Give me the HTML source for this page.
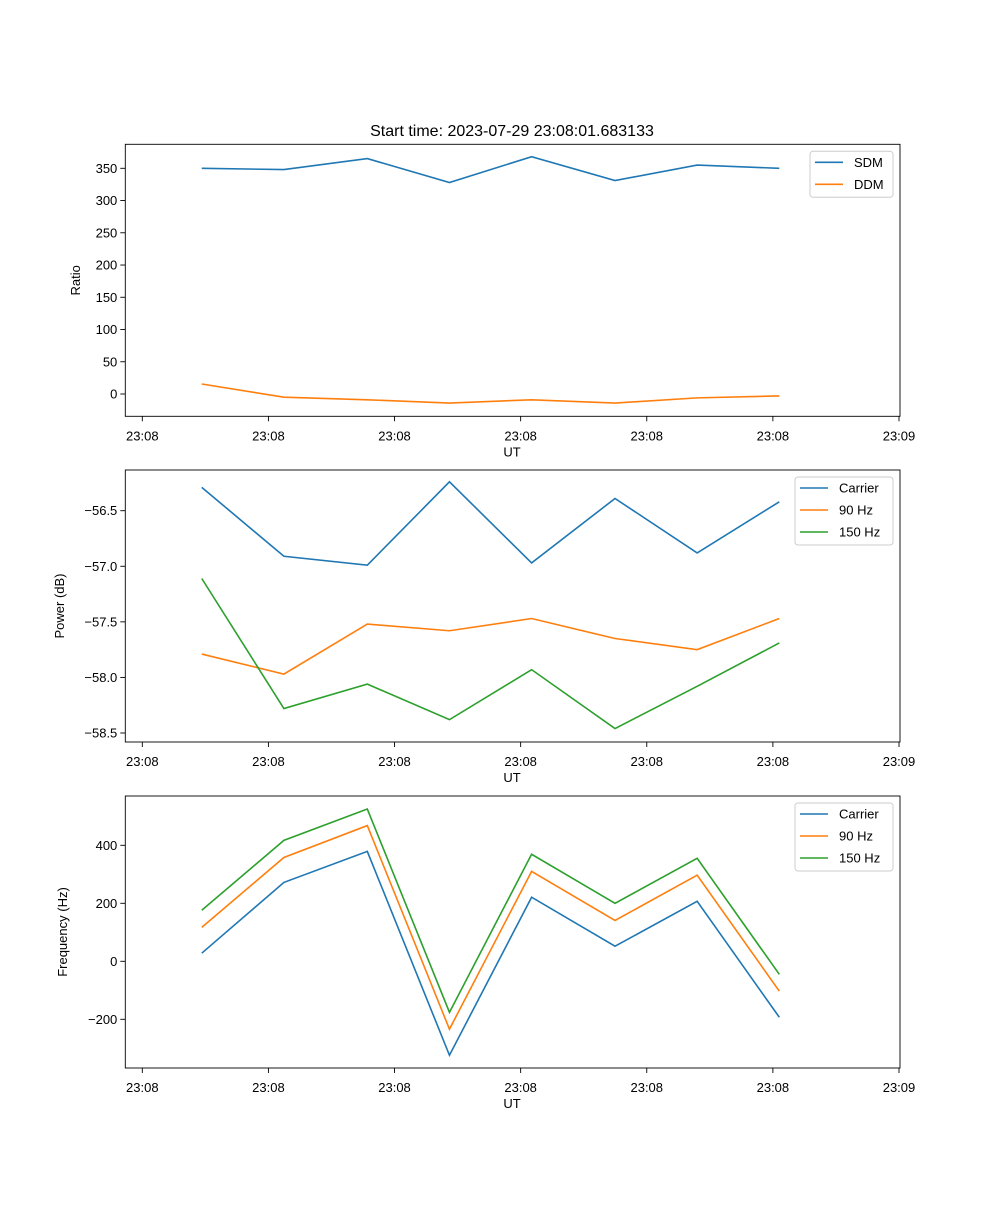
<!DOCTYPE html>
<html><head><meta charset="utf-8"><style>
body{margin:0;background:#fff}
svg{font-family:"Liberation Sans","DejaVu Sans",sans-serif}
</style></head><body>
<svg id="fig" width="1000" height="1200" viewBox="0 0 1000 1200"></svg>
<script>
const times=[0.475,1.125,1.785,2.435,3.085,3.745,4.395,5.045];
const xTickLabels=["23:08","23:08","23:08","23:08","23:08","23:08","23:09"];
const sdm=[350,348,365,328,368,331,355,350];
const ddm=[15.5,-5,-9,-14,-9,-14,-6,-3];
const powCarrier=[-56.29,-56.91,-56.99,-56.24,-56.97,-56.39,-56.88,-56.42];
const pow90=[-57.79,-57.97,-57.52,-57.58,-57.47,-57.65,-57.75,-57.47];
const pow150=[-57.11,-58.28,-58.06,-58.38,-57.93,-58.46,-58.08,-57.69];
const freqCarrier=[28,272,379,-324,221,52,207,-193];
const freq90=[117,358,468,-234,310,141,297,-103];
const freq150=[176,417,525,-176,369,200,355,-45];
const ratioTicks=[0,50,100,150,200,250,300,350];
const powTicks=[-56.5,-57.0,-57.5,-58.0,-58.5];
const freqTicks=[400,200,0,-200];

const NS="http://www.w3.org/2000/svg";
const svg=document.getElementById('fig');
function el(tag,attrs,parent){const e=document.createElementNS(NS,tag);for(const k in attrs)e.setAttribute(k,attrs[k]);(parent||svg).appendChild(e);return e;}
const L=125.3,R=900;
const xMin=-0.13,xMax=6.0;
const xs=v=>L+(v-xMin)/(xMax-xMin)*(R-L);
function fmt(v,dec){return (v<0?"\u2212":"")+Math.abs(v).toFixed(dec);}
const C1="#1f77b4",C2="#ff7f0e",C3="#2ca02c";
function panel(name,top,bottom,y0v,y0p,y1v,y1p,ticks,dec,ylabel,ylabX,series,legend){
  const ys=v=>y0p+(v-y0v)/(y1v-y0v)*(y1p-y0p);
  const g=el('g',{});
  
  
  xTickLabels.forEach((lab,i)=>{
    const x=142.3+i*(899-142.3)/6;
    const t=el('line',{x1:x,x2:x,y1:bottom,y2:bottom+5,stroke:'#000','stroke-width':0.9},g);
    
    
    const tx=el('text',{x:x,y:bottom+24,'font-size':13,'text-anchor':'middle'},g);
    tx.textContent=lab;
    
    
  });
  const xl=el('text',{x:512,y:bottom+40,'font-size':13,'text-anchor':'middle'},g);
  xl.textContent='UT';
  
  
  ticks.forEach(v=>{
    const y=ys(v);
    const t=el('line',{x1:L-5,x2:L,y1:y,y2:y,stroke:'#000','stroke-width':0.9},g);
    
    
    const tx=el('text',{x:L-8,y:y+4.5,'font-size':13,'text-anchor':'end'},g);
    tx.textContent=fmt(v,dec);
    
    
  });
  const cy=(top+bottom)/2;
  const yl=el('text',{x:ylabX,y:cy,'font-size':13,'text-anchor':'middle',transform:`rotate(-90 ${ylabX} ${cy})`},g);
  yl.textContent=ylabel;
  
  
  series.forEach(s=>{
    const p=el('polyline',{points:times.map((t,i)=>xs(t)+','+ys(s.vals[i])).join(' '),fill:'none',stroke:s.color,'stroke-width':1.6},g);
    
    
  });
  const fr=el('rect',{x:L,y:top,width:R-L,height:bottom-top,fill:'none',stroke:'#000','stroke-width':0.9},g);
  
  
  const lg=el('g',{},g);
  
  
  el('rect',{x:legend.x,y:top+7,width:893-legend.x,height:series.length*22+2,rx:3,fill:'#fff',stroke:'#ccc','stroke-width':1},lg);
  series.forEach((s,i)=>{
    const y=top+18+i*22;
    const ln=el('line',{x1:legend.x+5,x2:legend.x+33,y1:y,y2:y,stroke:s.color,'stroke-width':1.6},lg);
    
    
    const tx=el('text',{x:legend.x+44,y:y+4.5,'font-size':13},lg);
    tx.textContent=s.label;
    
    
  });
}
const title=el('text',{x:512,y:136,'font-size':16,'text-anchor':'middle'});
title.textContent='Start time: 2023-07-29 23:08:01.683133';


panel('ratio',144.3,416.3,0,394,350,168.3,ratioTicks,0,'Ratio',80,
  [{id:'sdm',label:'SDM',vals:sdm,color:C1},{id:'ddm',label:'DDM',vals:ddm,color:C2}],{x:810});
panel('power',470,742,-56.5,510.7,-58.5,733,powTicks,1,'Power (dB)',64,
  [{id:'carrier-power',label:'Carrier',vals:powCarrier,color:C1},{id:'90hz-power',label:'90 Hz',vals:pow90,color:C2},{id:'150hz-power',label:'150 Hz',vals:pow150,color:C3}],{x:795});
panel('frequency',796,1068,400,845.3,0,961.3,freqTicks,0,'Frequency (Hz)',67,
  [{id:'carrier-freq',label:'Carrier',vals:freqCarrier,color:C1},{id:'90hz-freq',label:'90 Hz',vals:freq90,color:C2},{id:'150hz-freq',label:'150 Hz',vals:freq150,color:C3}],{x:795});
</script>
</body></html>
